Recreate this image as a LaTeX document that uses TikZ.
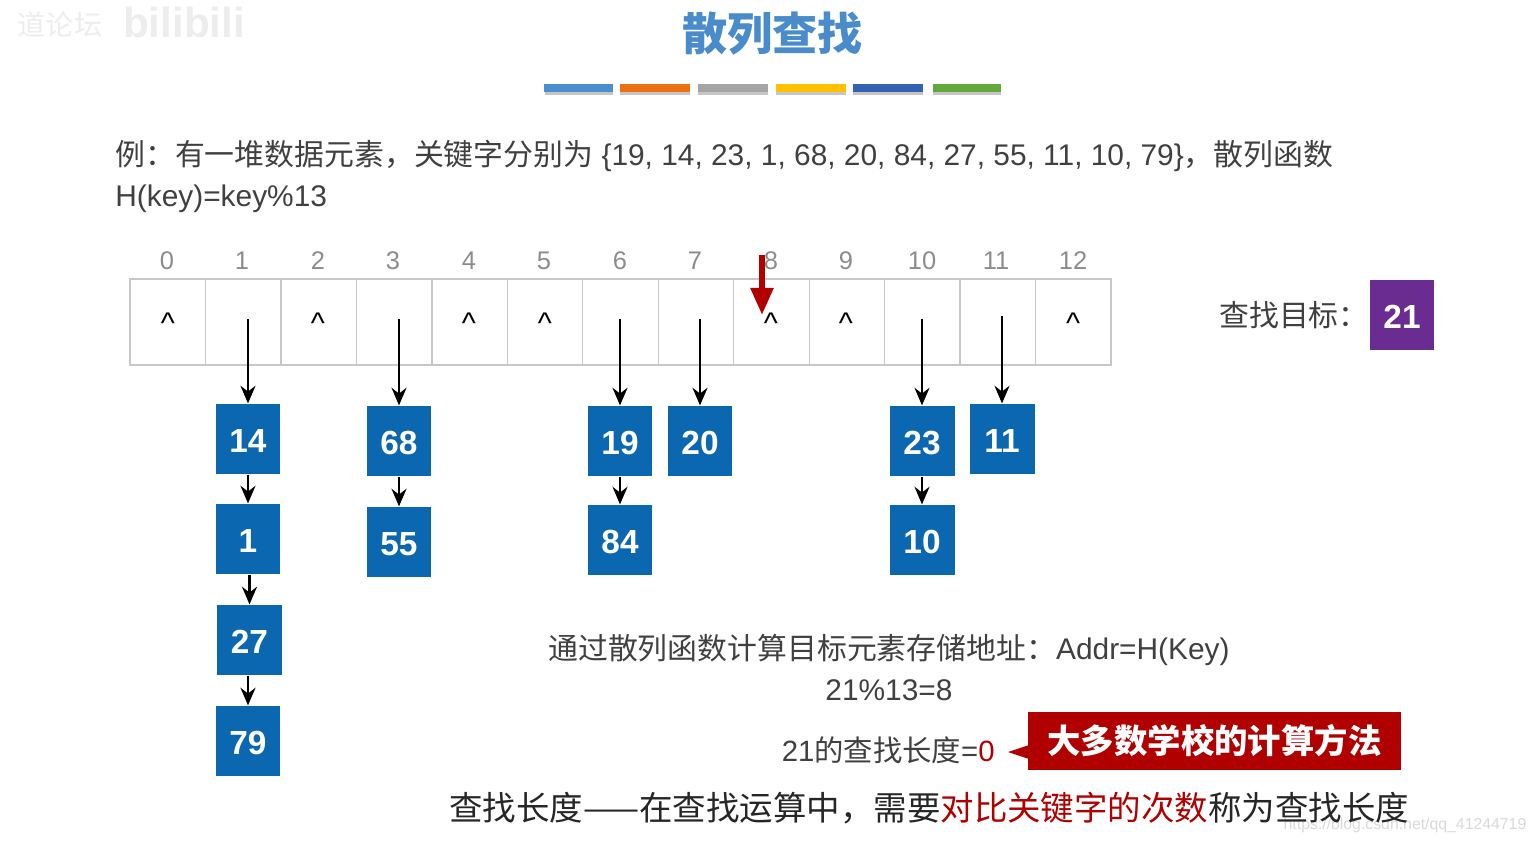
\documentclass[tikz,border=0pt]{standalone}
\usepackage{fontspec}
\setmainfont{Liberation Sans}
\newfontfamily\cjk{Noto Sans CJK SC}
\usetikzlibrary{arrows, arrows.meta}
\newcommand{\myscale}{0.02}
\definecolor{textgray}{HTML}{404040}
\definecolor{indexgray}{HTML}{8C8C8C}
\definecolor{cellgray}{HTML}{C8C8C8}
\definecolor{boxblue}{HTML}{0B68B0}
\definecolor{boxpurple}{HTML}{6A2C91}
\definecolor{darkred}{HTML}{B00000}
\definecolor{titleblue}{HTML}{4A8CCB}
\tikzset{
  cell/.style={draw=cellgray, line width=0.7pt, minimum width=1.509cm, minimum height=1.72cm, inner sep=0pt},
  index/.style={text=indexgray, font=\fontsize{14.5}{16}\selectfont},
  caret/.style={text=black, font=\fontsize{17}{18}\selectfont, inner sep=0pt},
  keybox/.style={fill=boxblue, text=white, minimum width=1.3cm, minimum height=1.41cm, inner sep=0pt, text height=15pt, text depth=0pt, font=\fontsize{19}{20}\selectfont\bfseries},
  body/.style={text=textgray, inner sep=0pt, font=\fontsize{17}{20}\selectfont},
  link/.style={-{Stealth[length=10pt,width=8.5pt]}, line width=1.5pt, black},
}

\begin{document}
\begin{tikzpicture}[x=\myscale cm, y=-\myscale cm]
  \useasboundingbox (0,0) rectangle (1536,843);

  % Watermarks
  \node[text=gray!14, font=\fontsize{16}{18}\selectfont\cjk] (markforum) at (60,25) {道论坛};
  \node[text=gray!14, font=\fontsize{24}{26}\selectfont\bfseries] (markbili) at (184,22) {bilibili};
  \node[text=gray!30, font=\fontsize{9}{11}\selectfont] (markurl) at (1405,825) {https://blog.csdn.net/qq\_41244719};

  % Title
  \node[text=titleblue, font=\fontsize{25.7}{28}\selectfont\cjk\bfseries] (title) at (772.5,34) {散列查找};
  \fill[gray!45] (545,90) rectangle (613,95);
  \fill[gray!45] (620,90) rectangle (690,95);
  \fill[gray!45] (698,90) rectangle (768,95);
  \fill[gray!45] (776,90) rectangle (846,95);
  \fill[gray!45] (853,90) rectangle (923,95);
  \fill[gray!45] (933,90) rectangle (1001,95);
  \fill[color={rgb,255:red,74;green,143;blue,208}] (544,84) rectangle (613,92);
  \fill[color={rgb,255:red,238;green,112;blue,20}] (620,84) rectangle (690,92);
  \fill[color={rgb,255:red,165;green,165;blue,165}] (698,84) rectangle (768,92);
  \fill[color={rgb,255:red,255;green,192;blue,0}] (776,84) rectangle (846,92);
  \fill[color={rgb,255:red,53;green,97;blue,181}] (853,84) rectangle (923,92);
  \fill[color={rgb,255:red,98;green,168;blue,58}] (933,84) rectangle (1001,92);

  % Problem text
  \node[body, anchor=west] (problem) at (115,155.5) {{\cjk 例：有一堆数据元素，关键字分别为} \{19, 14, 23, 1, 68, 20, 84, 27, 55, 11, 10, 79\}{\cjk ，散列函数}};
  \node[body, anchor=west] (hashfn) at (115,198.5) {H(key)=key\%13};

  % Table
  \node[cell] (c0) at (167.7,322) {};
  \node[cell] (c1) at (243.2,322) {};
  \node[cell] (c2) at (318.7,322) {};
  \node[cell] (c3) at (394.1,322) {};
  \node[cell] (c4) at (469.6,322) {};
  \node[cell] (c5) at (545.0,322) {};
  \node[cell] (c6) at (620.5,322) {};
  \node[cell] (c7) at (696.0,322) {};
  \node[cell] (c8) at (771.4,322) {};
  \node[cell] (c9) at (846.9,322) {};
  \node[cell] (c10) at (922.3,322) {};
  \node[cell] (c11) at (997.8,322) {};
  \node[cell] (c12) at (1073.3,322) {};

  \node[index] (i0) at (167,261) {0};
  \node[index] (i1) at (242,261) {1};
  \node[index] (i2) at (318,261) {2};
  \node[index] (i3) at (393,261) {3};
  \node[index] (i4) at (469,261) {4};
  \node[index] (i5) at (544,261) {5};
  \node[index] (i6) at (620,261) {6};
  \node[index] (i7) at (695,261) {7};
  \node[index] (i8) at (771,261) {8};
  \node[index] (i9) at (846,261) {9};
  \node[index] (i10) at (922,261) {10};
  \node[index] (i11) at (996,261) {11};
  \node[index] (i12) at (1073,261) {12};

  \node[caret] (n0) at (168,323) {\textasciicircum};
  \node[caret] (n2) at (318,323) {\textasciicircum};
  \node[caret] (n4) at (469,323) {\textasciicircum};
  \node[caret] (n5) at (545,323) {\textasciicircum};
  \node[caret] (n8) at (771,323) {\textasciicircum};
  \node[caret] (n9) at (846,323) {\textasciicircum};
  \node[caret] (n12) at (1073,323) {\textasciicircum};

  % Keys
  \node[keybox] (k14) at (248,439) {14};
  \node[keybox] (k1) at (248,539) {1};
  \node[keybox] (k27) at (249.5,640) {27};
  \node[keybox] (k79) at (248,741) {79};
  \node[keybox] (k68) at (399,441) {68};
  \node[keybox] (k55) at (399,542) {55};
  \node[keybox] (k19) at (620,441) {19};
  \node[keybox] (k84) at (620,540) {84};
  \node[keybox] (k20) at (700,441) {20};
  \node[keybox] (k23) at (922,441) {23};
  \node[keybox] (k10) at (922,540) {10};
  \node[keybox] (k11) at (1002,439) {11};

  % Coordinates
  \coordinate (s1) at (248,319);
  \coordinate (s3) at (399,319);
  \coordinate (s6) at (620,319);
  \coordinate (s7) at (700,319);
  \coordinate (s10) at (922,319);
  \coordinate (s11) at (1002,316);
  \coordinate (probetop) at (762,255);
  \coordinate (probeend) at (762,315);

  % Drawing
  \draw[link] (s1) -- (k14.north);
  \draw[link] (s3) -- (k68.north);
  \draw[link] (s6) -- (k19.north);
  \draw[link] (s7) -- (k20.north);
  \draw[link] (s10) -- (k23.north);
  \draw[link] (s11) -- (k11.north);
  \draw[link] (k14.south) -- (k1.north);
  \draw[link] (k1.south -| k27.north) -- (k27.north);
  \draw[link] (k27.south -| k79.north) -- (k79.north);
  \draw[link] (k68.south) -- (k55.north);
  \draw[link] (k19.south) -- (k84.north);
  \draw[link] (k23.south) -- (k10.north);
  \draw[-{Triangle[length=15.5pt,width=12.5pt]}, line width=3.4pt, darkred] (probetop) -- (probeend);

  % Target
  \node[body, anchor=east] (targetlabel) at (1369,315) {\cjk 查找目标：};
  \node[keybox, fill=boxpurple, minimum height=1.4cm, minimum width=1.29cm] (target) at (1402,315) {21};

  % Explanation
  \node[body] (addr) at (889,650) {{\cjk 通过散列函数计算目标元素存储地址：}Addr=H(Key)};
  \node[body] (calc) at (889,690) {21\%13=8};
  \node[body, anchor=east, font=\fontsize{16.7}{20}\selectfont] (length) at (995,750) {21{\cjk 的查找长度}=\textcolor{darkred}{0}};
  \node[fill=darkred, text=white, minimum width=7.46cm, minimum height=1.16cm, inner sep=0pt, font=\fontsize{19}{20}\selectfont\cjk\bfseries] (note) at (1214.5,741) {大多数学校的计算方法};
  \coordinate (notetip) at (1008,752);
  \fill[darkred] (notetip) -- (1029,745) -- (1029,759) -- cycle;
  \node[text=black!85, inner sep=0pt, anchor=west, font=\fontsize{19.05}{20}\selectfont\cjk] (definition) at (449,808) {查找长度——在查找运算中，需要\textcolor{darkred}{对比关键字的次数}称为查找长度};
\end{tikzpicture}
\end{document}
